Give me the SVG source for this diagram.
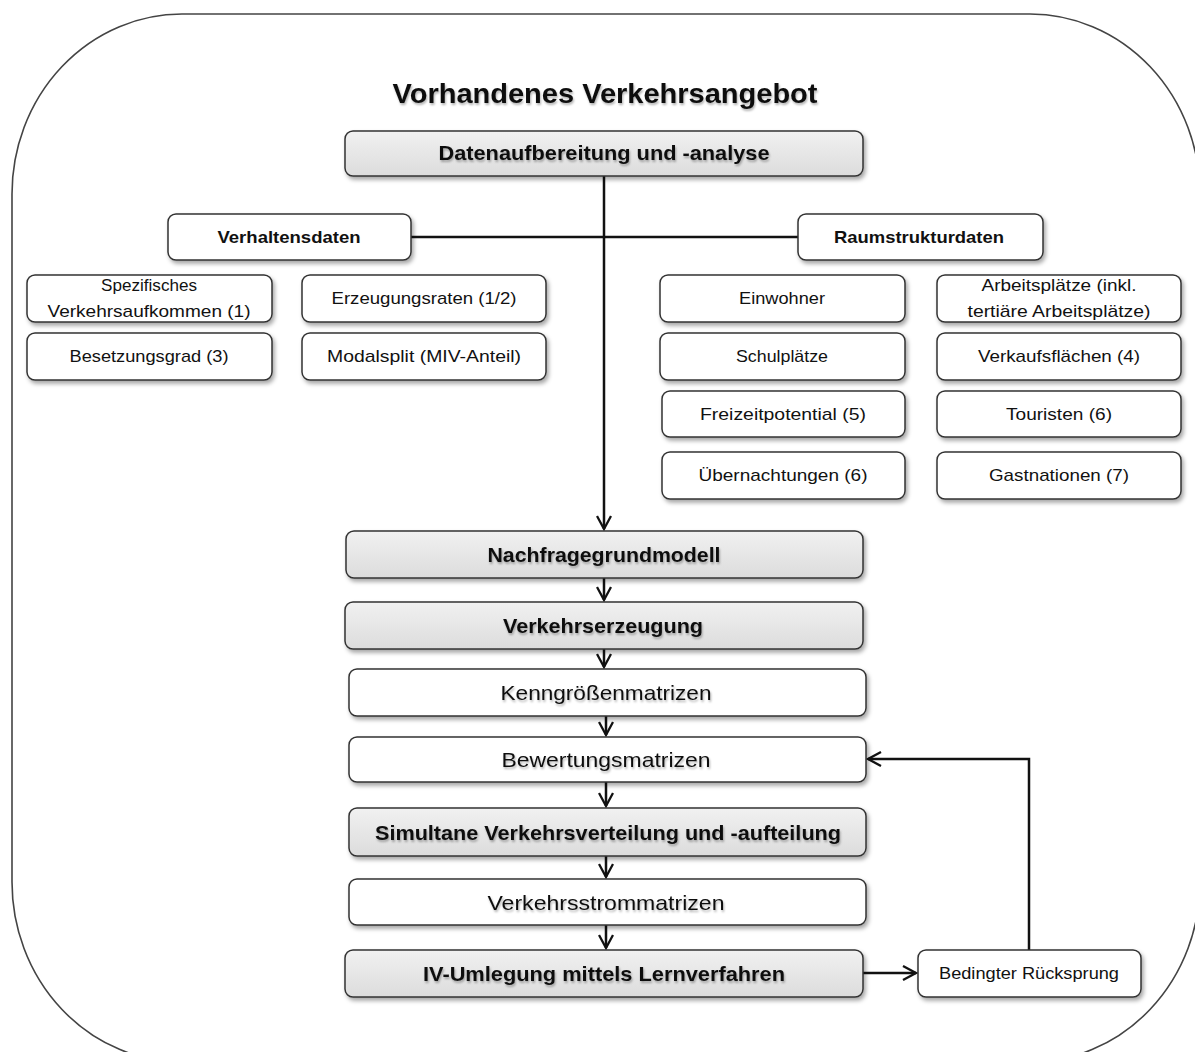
<svg xmlns="http://www.w3.org/2000/svg" width="1195" height="1052" viewBox="0 0 1195 1052">
  <style>
    text { font-family: "Liberation Sans", Arial, sans-serif; fill: #111; text-anchor: middle; }
    .box { fill: #fff; stroke: #333; stroke-width: 1.5; }
    .grey { fill: url(#greyFill); stroke: #333; stroke-width: 1.5; }
    .hd { font-weight: bold; font-size: 17px; }
    .sm { font-size: 17px; }
    .mb { font-weight: bold; font-size: 21px; }
    .mn { font-size: 21px; }
    .ln { fill: none; stroke: #111; stroke-width: 2.5; }
  </style>
  <defs>
    <linearGradient id="greyFill" x1="0" y1="0" x2="0" y2="1">
      <stop offset="0" stop-color="#f1f1f1"/>
      <stop offset="1" stop-color="#dcdcdc"/>
    </linearGradient>
    <filter id="boxShadow" x="-5%" y="-20%" width="110%" height="150%">
      <feDropShadow dx="2" dy="3" stdDeviation="2" flood-color="#000" flood-opacity="0.35"/>
    </filter>
    <filter id="textShadow" x="-5%" y="-30%" width="110%" height="170%">
      <feDropShadow dx="1" dy="2" stdDeviation="1.3" flood-color="#000" flood-opacity="0.3"/>
    </filter>
    <marker id="arr" viewBox="0 0 16 16" refX="14" refY="8" markerWidth="16" markerHeight="16" markerUnits="userSpaceOnUse" orient="auto">
      <path d="M1,1 L14,8 L1,15" fill="none" stroke="#111" stroke-width="2.3"/>
    </marker>
  </defs>

  <!-- outer frame -->
  <rect x="12" y="14" width="1188" height="1048" rx="170" ry="180" fill="#fff" stroke="#444" stroke-width="1.6"/>

  <text x="605" y="103" font-size="28" font-weight="bold" textLength="425" lengthAdjust="spacingAndGlyphs" filter="url(#textShadow)">Vorhandenes Verkehrsangebot</text>

  <!-- connectors -->
  <g id="connectors">
    <line class="ln" x1="411" y1="237" x2="798" y2="237"/>
    <line class="ln" x1="604" y1="176" x2="604" y2="529" marker-end="url(#arr)"/>
    <line class="ln" x1="604" y1="578" x2="604" y2="600" marker-end="url(#arr)"/>
    <line class="ln" x1="604" y1="649" x2="604" y2="667" marker-end="url(#arr)"/>
    <line class="ln" x1="606" y1="716" x2="606" y2="735" marker-end="url(#arr)"/>
    <line class="ln" x1="606" y1="782" x2="606" y2="806" marker-end="url(#arr)"/>
    <line class="ln" x1="606" y1="856" x2="606" y2="877" marker-end="url(#arr)"/>
    <line class="ln" x1="606" y1="925" x2="606" y2="948" marker-end="url(#arr)"/>
    <line class="ln" x1="863" y1="973" x2="916" y2="973" marker-end="url(#arr)"/>
    <polyline class="ln" points="1029,950 1029,759 868,759" marker-end="url(#arr)"/>
  </g>

  <g id="n-daten">
    <rect class="grey" x="345" y="131" width="518" height="45" rx="8" filter="url(#boxShadow)"/>
    <text class="mb" x="604" y="160" textLength="331" lengthAdjust="spacingAndGlyphs" filter="url(#textShadow)">Datenaufbereitung und -analyse</text>
  </g>

  <g id="n-verhalten">
    <rect class="box" x="168" y="214" width="243" height="46" rx="8" filter="url(#boxShadow)"/>
    <text class="hd" x="289" y="243" textLength="143" lengthAdjust="spacingAndGlyphs">Verhaltensdaten</text>
  </g>
  <g id="n-raum">
    <rect class="box" x="798" y="214" width="245" height="46" rx="8" filter="url(#boxShadow)"/>
    <text class="hd" x="919" y="243" textLength="170" lengthAdjust="spacingAndGlyphs">Raumstrukturdaten</text>
  </g>

  <g id="n-spez">
    <rect class="box" x="27" y="275" width="245" height="47" rx="8" filter="url(#boxShadow)"/>
    <text class="sm" x="149" y="291" textLength="96" lengthAdjust="spacingAndGlyphs">Spezifisches</text>
    <text class="sm" x="149" y="317" textLength="203" lengthAdjust="spacingAndGlyphs">Verkehrsaufkommen  (1)</text>
  </g>
  <g id="n-erzeug">
    <rect class="box" x="302" y="275" width="244" height="47" rx="8" filter="url(#boxShadow)"/>
    <text class="sm" x="424" y="304" textLength="185" lengthAdjust="spacingAndGlyphs">Erzeugungsraten (1/2)</text>
  </g>
  <g id="n-besetz">
    <rect class="box" x="27" y="333" width="245" height="47" rx="8" filter="url(#boxShadow)"/>
    <text class="sm" x="149" y="362" textLength="159" lengthAdjust="spacingAndGlyphs">Besetzungsgrad (3)</text>
  </g>
  <g id="n-modal">
    <rect class="box" x="302" y="333" width="244" height="47" rx="8" filter="url(#boxShadow)"/>
    <text class="sm" x="424" y="362" textLength="194" lengthAdjust="spacingAndGlyphs">Modalsplit  (MIV-Anteil)</text>
  </g>

  <g id="n-einw">
    <rect class="box" x="660" y="275" width="245" height="47" rx="8" filter="url(#boxShadow)"/>
    <text class="sm" x="782" y="304" textLength="86" lengthAdjust="spacingAndGlyphs">Einwohner</text>
  </g>
  <g id="n-arbeit">
    <rect class="box" x="937" y="275" width="244" height="47" rx="8" filter="url(#boxShadow)"/>
    <text class="sm" x="1059" y="291" textLength="155" lengthAdjust="spacingAndGlyphs">Arbeitsplätze  (inkl.</text>
    <text class="sm" x="1059" y="317" textLength="183" lengthAdjust="spacingAndGlyphs">tertiäre Arbeitsplätze)</text>
  </g>
  <g id="n-schul">
    <rect class="box" x="660" y="333" width="245" height="47" rx="8" filter="url(#boxShadow)"/>
    <text class="sm" x="782" y="362" textLength="92" lengthAdjust="spacingAndGlyphs">Schulplätze</text>
  </g>
  <g id="n-verkauf">
    <rect class="box" x="937" y="333" width="244" height="47" rx="8" filter="url(#boxShadow)"/>
    <text class="sm" x="1059" y="362" textLength="162" lengthAdjust="spacingAndGlyphs">Verkaufsflächen  (4)</text>
  </g>
  <g id="n-freizeit">
    <rect class="box" x="662" y="391" width="243" height="46" rx="8" filter="url(#boxShadow)"/>
    <text class="sm" x="783" y="420" textLength="166" lengthAdjust="spacingAndGlyphs">Freizeitpotential  (5)</text>
  </g>
  <g id="n-tour">
    <rect class="box" x="937" y="391" width="244" height="46" rx="8" filter="url(#boxShadow)"/>
    <text class="sm" x="1059" y="420" textLength="106" lengthAdjust="spacingAndGlyphs">Touristen  (6)</text>
  </g>
  <g id="n-uebern">
    <rect class="box" x="662" y="452" width="243" height="47" rx="8" filter="url(#boxShadow)"/>
    <text class="sm" x="783" y="481" textLength="169" lengthAdjust="spacingAndGlyphs">Übernachtungen  (6)</text>
  </g>
  <g id="n-gast">
    <rect class="box" x="937" y="452" width="244" height="47" rx="8" filter="url(#boxShadow)"/>
    <text class="sm" x="1059" y="481" textLength="140" lengthAdjust="spacingAndGlyphs">Gastnationen  (7)</text>
  </g>

  <g id="n-nachfrage">
    <rect class="grey" x="346" y="531" width="517" height="47" rx="8" filter="url(#boxShadow)"/>
    <text class="mb" x="604" y="562" textLength="233" lengthAdjust="spacingAndGlyphs" filter="url(#textShadow)">Nachfragegrundmodell</text>
  </g>
  <g id="n-erzeugung">
    <rect class="grey" x="345" y="602" width="518" height="47" rx="8" filter="url(#boxShadow)"/>
    <text class="mb" x="603" y="633" textLength="200" lengthAdjust="spacingAndGlyphs" filter="url(#textShadow)">Verkehrserzeugung</text>
  </g>
  <g id="n-kenn">
    <rect class="box" x="349" y="669" width="517" height="47" rx="8" filter="url(#boxShadow)"/>
    <text class="mn" x="606" y="700" textLength="211" lengthAdjust="spacingAndGlyphs" filter="url(#textShadow)">Kenngrößenmatrizen</text>
  </g>
  <g id="n-bewert">
    <rect class="box" x="349" y="737" width="517" height="45" rx="8" filter="url(#boxShadow)"/>
    <text class="mn" x="606" y="767" textLength="209" lengthAdjust="spacingAndGlyphs" filter="url(#textShadow)">Bewertungsmatrizen</text>
  </g>
  <g id="n-simultan">
    <rect class="grey" x="349" y="808" width="517" height="48" rx="8" filter="url(#boxShadow)"/>
    <text class="mb" x="608" y="840" textLength="466" lengthAdjust="spacingAndGlyphs" filter="url(#textShadow)">Simultane Verkehrsverteilung und -aufteilung</text>
  </g>
  <g id="n-strom">
    <rect class="box" x="349" y="879" width="517" height="46" rx="8" filter="url(#boxShadow)"/>
    <text class="mn" x="606" y="910" textLength="237" lengthAdjust="spacingAndGlyphs" filter="url(#textShadow)">Verkehrsstrommatrizen</text>
  </g>
  <g id="n-umlegung">
    <rect class="grey" x="345" y="950" width="518" height="47" rx="8" filter="url(#boxShadow)"/>
    <text class="mb" x="604" y="981" textLength="362" lengthAdjust="spacingAndGlyphs" filter="url(#textShadow)">IV-Umlegung mittels Lernverfahren</text>
  </g>
  <g id="n-ruecksprung">
    <rect class="box" x="918" y="950" width="223" height="47" rx="8" filter="url(#boxShadow)"/>
    <text class="sm" x="1029" y="979" textLength="180" lengthAdjust="spacingAndGlyphs">Bedingter Rücksprung</text>
  </g>
</svg>
